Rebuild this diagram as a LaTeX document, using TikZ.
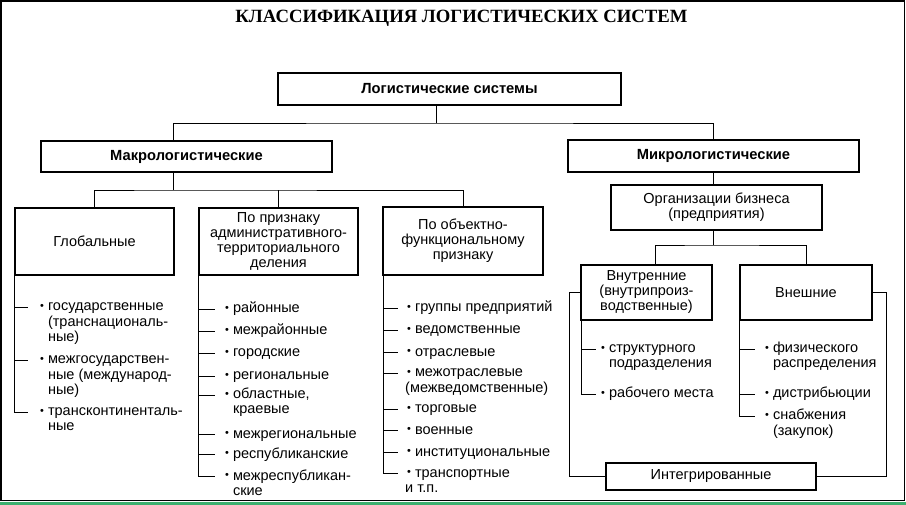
\documentclass[tikz,border=0pt]{standalone}
\usepackage{fontspec}
\setmainfont{Liberation Sans}
\newfontfamily\ttlfont{Liberation Serif}
\usepackage{graphicx}
\definecolor{frgreen}{RGB}{60,175,110}
\newcommand\fsreg{\fontsize{14.5}{15}\selectfont}
\newcommand\fsbold{\fontsize{14.7}{15}\selectfont\bfseries}
\newcommand\blt{\raisebox{0.09em}{\scalebox{0.75}{•}}}
\newcommand\bl[1]{\begin{tabular}[t]{@{}l@{\hspace{4pt}}l@{}}\blt & #1\end{tabular}}
\newcommand\bi[1]{\begin{tabular}[t]{@{}l@{}}\hspace*{2pt}\blt\hspace{4pt}#1\end{tabular}}
\begin{document}
\begin{tikzpicture}[x=1pt,y=-1pt,
  bx/.style={draw, line width=1.5pt, inner sep=0pt, align=center, font=\fsreg},
  bbx/.style={bx, font=\fsbold},
  itm/.style={anchor=base west, inner sep=0pt, font=\fsreg},
  conn/.style={line width=0.9pt}]
\useasboundingbox (0,0) rectangle (906,505);
% frame
\draw[line width=1.5pt] (1,1) rectangle (904.5,500.5);
\fill[frgreen] (0,502) rectangle (906,505);
% title
\node[anchor=base, inner sep=0pt, font=\ttlfont\fontsize{18.7}{20}\selectfont\bfseries] (title) at (461.5,23) {КЛАССИФИКАЦИЯ ЛОГИСТИЧЕСКИХ СИСТЕМ};
% boxes
\node[bbx, minimum width=343pt, minimum height=32pt] (top) at (449.5,89) {Логистические системы};
\node[bbx, minimum width=291pt, minimum height=31pt] (macro) at (186.5,156.5) {Макрологистические};
\node[bbx, minimum width=291pt, minimum height=32pt] (micro) at (713.5,156) {Микрологистические};
\node[bx, minimum width=159pt, minimum height=67pt] (glob) at (94.5,241.5) {Глобальные};
\node[bx, minimum width=159pt, minimum height=67pt] (adm) at (278.5,241.5) {По признаку\\административного-\\территориального\\деления};
\node[bx, minimum width=160pt, minimum height=68pt] (obj) at (463,241) {По объектно-\\функциональному\\признаку};
\node[bx, minimum width=211pt, minimum height=45pt] (org) at (716.5,207.5) {Организации бизнеса\\(предприятия)};
\node[bx, minimum width=131pt, minimum height=55pt] (inner) at (646.5,292.5) {Внутренние\\(внутрипроиз-\\водственные)};
\node[bx, minimum width=132pt, minimum height=55pt] (ext) at (806,292.5) {Внешние};
\node[bx, minimum width=210pt, minimum height=27pt] (integ) at (711,476.5) {Интегрированные};
% tree connectors
\coordinate (bus1) at (436,123);
\coordinate (bus2) at (173,190);
\coordinate (bus3) at (713,245);
\coordinate (lft) at (569,0);
\coordinate (rgt) at (886,0);
\draw[conn] (top.south -| bus1) -- (bus1);
\draw[conn] ([xshift=-13.5pt]macro.north) |- (bus1) -| (micro.north);
\draw[conn] ([xshift=-13.5pt]macro.south) -- (bus2);
\draw[conn] (glob.north) |- (bus2) -| (obj.north);
\draw[conn] (adm.north) -- (adm.north |- bus2);
\draw[conn] (micro.south) -- (micro.south |- org.north);
\draw[conn] (org.south -| bus3) -- (bus3);
\draw[conn] ([xshift=8.5pt]inner.north) |- (bus3) -| (ext.north);
\draw[conn] (inner.west) -| (lft |- integ.west) -- (integ.west);
\draw[conn] (ext.east) -| (rgt |- integ.east) -- (integ.east);
% global list
\node[itm] (g1) at (40,311) {\bl{государственные\\ & (транснациональ-\\ & ные)}};
\node[itm] (g2) at (40,364) {\bl{межгосударствен-\\ & ные (международ-\\ & ные)}};
\node[itm] (g3) at (40,416) {\bl{трансконтиненталь-\\ & ные}};
\foreach \n in {g1,g2,g3} \coordinate (\n t) at ([xshift=-12pt,yshift=4pt]\n.base west);
\draw[conn] (glob.south west) |- (g3t);
\foreach \n in {g1,g2} \draw[conn] (glob.south west |- \n t) -- (\n t);
% administrative list
\node[itm] (a1) at (225,313) {\bl{районные}};
\node[itm] (a2) at (225,335) {\bl{межрайонные}};
\node[itm] (a3) at (225,357) {\bl{городские}};
\node[itm] (a4) at (225,380) {\bl{региональные}};
\node[itm] (a5) at (225,399) {\bl{областные,\\ & краевые}};
\node[itm] (a6) at (225,438) {\bl{межрегиональные}};
\node[itm] (a7) at (225,458) {\bl{республиканские}};
\node[itm] (a8) at (225,480) {\bl{межреспубликан-\\ & ские}};
\foreach \n in {a1,a2,a3,a4,a5,a6,a7,a8} \coordinate (\n t) at ([xshift=-10pt,yshift=4pt]\n.base west);
\draw[conn] (adm.south west) |- (a8t);
\foreach \n in {a1,a2,a3,a4,a5,a6,a7} \draw[conn] (adm.south west |- \n t) -- (\n t);
% object list
\node[itm] (o1) at (405,312) {\bi{группы предприятий}};
\node[itm] (o2) at (405,334) {\bi{ведомственные}};
\node[itm] (o3) at (405,356) {\bi{отраслевые}};
\node[itm] (o4) at (405,377) {\bi{межотраслевые\\(межведомственные)}};
\node[itm] (o5) at (405,413) {\bi{торговые}};
\node[itm] (o6) at (405,434) {\bi{военные}};
\node[itm] (o7) at (405,456) {\bi{институциональные}};
\node[itm] (o8) at (405,477) {\bi{транспортные\\и т.п.}};
\foreach \n in {o1,o2,o3,o4,o5,o6,o7,o8} \coordinate (\n t) at ([xshift=-7pt,yshift=4pt]\n.base west);
\draw[conn] ([xshift=1pt]obj.south west) |- (o8t);
\foreach \n in {o1,o2,o3,o4,o5,o6,o7} \draw[conn] ([xshift=1pt]obj.south west |- \n t) -- (\n t);
% inner list
\node[itm] (i1) at (601,353) {\bl{структурного\\ & подразделения}};
\node[itm] (i2) at (601,398) {\bl{рабочего места}};
\foreach \n in {i1,i2} \coordinate (\n t) at ([xshift=-5pt,yshift=4pt]\n.base west);
\draw[conn] ([xshift=1pt]inner.south west) |- (i2t);
\draw[conn] ([xshift=1pt]inner.south west |- i1t) -- (i1t);
% external list
\node[itm] (e1) at (765,353) {\bl{физического\\ & распределения}};
\node[itm] (e2) at (765,398) {\bl{дистрибьюции}};
\node[itm] (e3) at (765,420) {\bl{снабжения\\ & (закупок)}};
\foreach \n in {e1,e2,e3} \coordinate (\n t) at ([xshift=-10pt,yshift=4pt]\n.base west);
\draw[conn] (ext.south west) |- (e3t);
\foreach \n in {e1,e2} \draw[conn] (ext.south west |- \n t) -- (\n t);
\end{tikzpicture}
\end{document}
